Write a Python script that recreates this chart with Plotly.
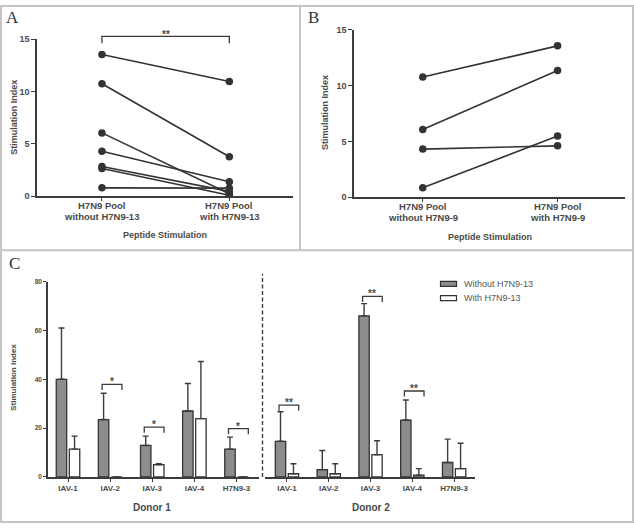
import plotly.graph_objects as go

# ---------------- data ----------------
a_categories = ["H7N9 Pool<br>without H7N9-13", "H7N9 Pool<br>with H7N9-13"]
a_without = [13.55, 10.75, 6.06, 4.31, 2.84, 2.66, 0.81]
a_with = [10.97, 3.78, 0.25, 1.40, 0.47, 0.10, 0.78]

b_categories = ["H7N9 Pool<br>without H7N9-9", "H7N9 Pool<br>with H7N9-9"]
b_without = [10.75, 6.06, 4.31, 0.85]
b_with = [13.54, 11.34, 4.60, 5.48]

c_categories = ["IAV-1", "IAV-2", "IAV-3", "IAV-4", "H7N9-3"]
d1_without = [40.0, 23.5, 12.9, 27.0, 11.4]
d1_without_top = [61.0, 34.3, 16.7, 38.3, 16.3]
d1_with = [11.4, 0.0, 5.0, 23.9, 0.0]
d1_with_top = [16.7, 0.0, 5.4, 47.3, 0.0]
d2_without = [14.6, 3.0, 66.0, 23.3, 5.9]
d2_without_top = [26.7, 10.8, 71.0, 31.5, 15.5]
d2_with = [1.3, 1.3, 9.1, 0.7, 3.4]
d2_with_top = [5.4, 5.4, 14.8, 3.4, 13.8]

# significance: (category index, bracket height, label)
d1_sig = [(1, 37.9, "*"), (2, 20.4, "*"), (4, 19.8, "*")]
d2_sig = [(0, 29.4, "**"), (2, 74.0, "**"), (3, 35.2, "**")]

series_names = ["Without H7N9-13", "With H7N9-13"]

# ---------------- styling helpers ----------------
W, H = 634, 529
def px(x):
    return x / W
def py(y):
    return 1 - y / H

FONT = "Liberation Sans, Arial, sans-serif"
TXT = "#4a4a4a"
AX = "#3c3c3c"
GRAY = "#8c8c8c"
LINE = "#333333"

fig = go.Figure()

# Panel A lines
for v0, v1 in zip(a_without, a_with):
    fig.add_trace(go.Scatter(x=[0, 1], y=[v0, v1], mode="lines+markers",
                             line=dict(color=LINE, width=1.6),
                             marker=dict(color=LINE, size=7.5),
                             xaxis="x", yaxis="y", showlegend=False, hoverinfo="y"))
# Panel B lines
for v0, v1 in zip(b_without, b_with):
    fig.add_trace(go.Scatter(x=[0, 1], y=[v0, v1], mode="lines+markers",
                             line=dict(color=LINE, width=1.6),
                             marker=dict(color=LINE, size=7.5),
                             xaxis="x2", yaxis="y2", showlegend=False, hoverinfo="y"))

def bar(vals, tops, color, name, xa, og):
    return go.Bar(x=c_categories, y=vals, name=name, xaxis=xa, yaxis="y3",
                  offsetgroup=og,
                  marker=dict(color=color, line=dict(color=LINE, width=1.3)),
                  error_y=dict(type="data", symmetric=False,
                               array=[t - v for t, v in zip(tops, vals)],
                               arrayminus=[0] * len(vals),
                               color=AX, thickness=1.4, width=3),
                  showlegend=False)

fig.add_trace(bar(d1_without, d1_without_top, GRAY, series_names[0], "x3", "a"))
fig.add_trace(bar(d1_with, d1_with_top, "white", series_names[1], "x3", "b"))
fig.add_trace(bar(d2_without, d2_without_top, GRAY, series_names[0], "x4", "a"))
fig.add_trace(bar(d2_with, d2_with_top, "white", series_names[1], "x4", "b"))

axis_common = dict(showline=True, linecolor=AX, linewidth=1.5, ticks="outside",
                   tickcolor=AX, tickwidth=1.3, showgrid=False, zeroline=False)

fig.update_layout(
    width=W, height=H, margin=dict(l=0, r=0, t=0, b=0),
    paper_bgcolor="white", plot_bgcolor="white",
    barmode="group", bargap=0.38, bargroupgap=0.2,
    xaxis=dict(domain=[px(37), px(293)], anchor="y", range=[-0.51, 1.5],
               tickvals=[0, 1], showticklabels=False, ticklen=3, **axis_common),
    yaxis=dict(domain=[py(195), py(35)], anchor="x", range=[0, 15],
               tickvals=[0, 5, 10, 15], ticklen=4,
               tickfont=dict(family=FONT, size=9, color=TXT, weight="bold"), **axis_common),
    xaxis2=dict(domain=[px(354), px(625)], anchor="y2", range=[-0.51, 1.5],
                tickvals=[0, 1], showticklabels=False, ticklen=3, **axis_common),
    yaxis2=dict(domain=[py(196), py(25)], anchor="x2", range=[0, 15],
                tickvals=[0, 5, 10, 15], ticklen=4,
                tickfont=dict(family=FONT, size=9, color=TXT, weight="bold"), **axis_common),
    xaxis3=dict(domain=[px(48), px(259)], anchor="y3", range=[-0.475, 4.534],
                type="category", ticklen=3,
                tickfont=dict(family=FONT, size=8, color=TXT, weight="bold"), **axis_common),
    xaxis4=dict(domain=[px(265), px(475)], anchor="y3", range=[-0.526, 4.5],
                type="category", ticklen=3,
                tickfont=dict(family=FONT, size=8, color=TXT, weight="bold"), **axis_common),
    yaxis3=dict(domain=[py(481), py(282)], anchor="x3", range=[0, 80],
                tickvals=[0, 20, 40, 60, 80], ticklen=3,
                tickfont=dict(family=FONT, size=6.5, color=TXT, weight="bold"), **axis_common),
)

shapes = []
ann = []
# panel borders
bc = "#c4c4c4"
shapes.append(dict(type="rect", xref="paper", yref="paper", x0=px(1), x1=px(633),
                   y0=py(527), y1=py(1), line=dict(color=bc, width=2)))
shapes.append(dict(type="line", xref="paper", yref="paper", x0=px(300), x1=px(300),
                   y0=py(250), y1=py(1), line=dict(color=bc, width=2)))
shapes.append(dict(type="line", xref="paper", yref="paper", x0=px(1), x1=px(633),
                   y0=py(250), y1=py(250), line=dict(color=bc, width=2)))

# panel letters
for letter, x, y in [("A", 12, 13), ("B", 313, 13), ("C", 14, 263)]:
    ann.append(dict(text=letter, x=px(x), y=py(y), xref="paper", yref="paper",
                    xanchor="center", yanchor="middle", showarrow=False,
                    font=dict(family="Liberation Serif, Times New Roman, serif",
                              size=17, color="#333")))

# category labels for panels A and B (two lines each)
for xa, yd, cats, dom_h in [("x", "y domain", a_categories, 160.0),
                            ("x2", "y2 domain", b_categories, 171.0)]:
    for i, cat in enumerate(cats):
        for j, line in enumerate(cat.split("<br>")):
            ann.append(dict(text="<b>%s</b>" % line, x=i, y=-(9.5 + 10.8 * j) / dom_h,
                            xref=xa, yref=yd, showarrow=False,
                            xanchor="center", yanchor="middle",
                            font=dict(family=FONT, size=9.5, color=TXT)))

# axis titles
for txt, x, y, ang, sz in [("Stimulation Index", 14, 115, -90, 9),
                           ("Stimulation Index", 325, 110, -90, 9),
                           ("Stimulation Index", 14, 380, -90, 8),
                           ("Peptide Stimulation", 165, 234, 0, 9),
                           ("Peptide Stimulation", 490, 236, 0, 9),
                           ("Donor 1", 152, 512, 0, 10),
                           ("Donor 2", 371, 512, 0, 10)]:
    ann.append(dict(text="<b>%s</b>" % txt, x=px(x), y=py(y), xref="paper", yref="paper",
                    xanchor="center", yanchor="middle",
                    showarrow=False, textangle=ang,
                    font=dict(family=FONT, size=sz, color=TXT)))

# panel A bracket
shapes.append(dict(type="path", xref="x", yref="y domain",
                   path="M 0,%f L 0,%f L 1,%f L 1,%f" % (1 - (39 - 35) / 160,
                                                         1 + (35 - 32) / 160,
                                                         1 + (35 - 32) / 160,
                                                         1 - (39 - 35) / 160),
                   line=dict(color=AX, width=1.3)))
ann.append(dict(text="<b>**</b>", x=0.5, y=1 + (35 - 30) / 160, xref="x", yref="y domain",
                xanchor="center", yanchor="middle",
                showarrow=False, font=dict(family=FONT, size=10, color=TXT)))

# panel C brackets
for xa, sig in [("x3", d1_sig), ("x4", d2_sig)]:
    for i, h, lab in sig:
        x0, x1 = i - 0.19, i + 0.28
        shapes.append(dict(type="path", xref=xa, yref="y3",
                           path="M %f,%f L %f,%f L %f,%f L %f,%f" % (x0, h - 2.3, x0, h, x1, h, x1, h - 2.3),
                           line=dict(color=AX, width=1.3)))
        ann.append(dict(text="<b>%s</b>" % lab, x=(x0 + x1) / 2, y=h + 1.0, xref=xa, yref="y3",
                        showarrow=False, xanchor="center", yanchor="middle",
                        font=dict(family=FONT, size=10, color=TXT)))

# dashed separator
shapes.append(dict(type="line", xref="paper", yref="paper", x0=px(262.5), x1=px(262.5),
                   y0=py(481), y1=py(274), line=dict(color=AX, width=1.4, dash="4px,2.5px")))

# legend (manual)
for (name, fill), yy in zip(zip(series_names, [GRAY, "white"]), [284.2, 298.8]):
    shapes.append(dict(type="rect", xref="paper", yref="paper", x0=px(440.5), x1=px(456.5),
                       y0=py(yy + 2.6), y1=py(yy - 2.6), fillcolor=fill,
                       line=dict(color=LINE, width=1.2)))
    ann.append(dict(text=name, x=px(462), y=py(yy), xref="paper", yref="paper",
                    xanchor="left", yanchor="middle", showarrow=False,
                    font=dict(family=FONT, size=9, color="#555")))

fig.update_layout(shapes=shapes, annotations=ann)
fig.write_html("out.html", config={"displayModeBar": False},
               post_script="document.body.style.margin='0px';")
